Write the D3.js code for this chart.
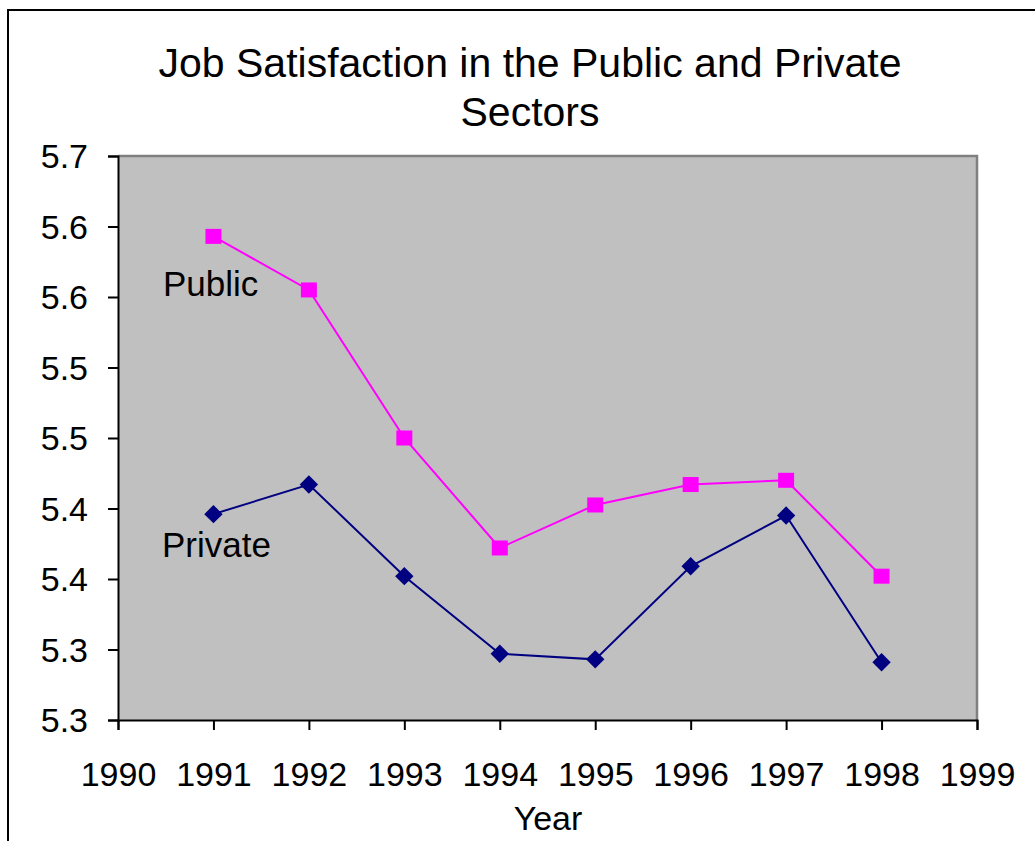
<!DOCTYPE html>
<html>
<head>
<meta charset="utf-8">
<script src="https://cdn.jsdelivr.net/npm/d3@7"></script>
<style>
  body { margin: 0; background: #fff; }
  text { font-family: "Liberation Sans", Arial, sans-serif; fill: #000; }
</style>
</head>
<body>
<script>
var years = [1991, 1992, 1993, 1994, 1995, 1996, 1997, 1998];
var publicVals = [5.593, 5.555, 5.450, 5.372, 5.4025, 5.417, 5.420, 5.352];
var privateVals = [5.396, 5.417, 5.352, 5.297, 5.293, 5.359, 5.395, 5.291];
var xTicks = [1990, 1991, 1992, 1993, 1994, 1995, 1996, 1997, 1998, 1999];
var yTicks = [5.25, 5.30, 5.35, 5.40, 5.45, 5.50, 5.55, 5.60, 5.65];

var W = 1035, H = 841;
var plot = { left: 118, right: 977, top: 156, bottom: 720 };

var svg = d3.select("body").append("svg")
	.attr("width", W)
	.attr("height", H);

// outer chart frame (runs off the right and bottom)
svg.append("path")
	.attr("d", "M8," + H + "V10H" + W)
	.attr("fill", "none")
	.attr("stroke", "#000")
	.attr("stroke-width", 2);

var x = d3.scaleLinear().domain([1990, 1999]).range([plot.left, plot.right]);
var y = d3.scaleLinear().domain([5.25, 5.65]).range([plot.bottom, plot.top]);

// plot area
svg.append("rect")
	.attr("x", plot.left)
	.attr("y", plot.top)
	.attr("width", plot.right - plot.left)
	.attr("height", plot.bottom - plot.top)
	.attr("fill", "#c0c0c0");

svg.append("path")
	.attr("d", "M" + plot.left + "," + plot.top + "H" + plot.right + "V" + plot.bottom)
	.attr("fill", "none")
	.attr("stroke", "#808080")
	.attr("stroke-width", 2.5);

// title
var title = svg.append("text")
	.attr("text-anchor", "middle")
	.style("font-size", "41px");
title.append("tspan").attr("x", 530).attr("y", 77).text("Job Satisfaction in the Public and Private");
title.append("tspan").attr("x", 530).attr("y", 126).text("Sectors");

// one decimal, rounding halves up like the spreadsheet does
var oneDec = function (d) { return (Math.round(d * 10 + 1e-6) / 10).toFixed(1); };

var yAxis = svg.append("g")
	.attr("transform", "translate(" + plot.left + ",0)")
	.call(d3.axisLeft(y).tickValues(yTicks).tickFormat(oneDec).tickSize(10).tickPadding(20));

var xAxis = svg.append("g")
	.attr("transform", "translate(0," + plot.bottom + ")")
	.call(d3.axisBottom(x).tickValues(xTicks).tickFormat(d3.format("d")).tickSize(10).tickPadding(29));

[yAxis, xAxis].forEach(function (g) {
	g.select(".domain").attr("stroke", "#000").attr("stroke-width", 2);
	g.selectAll(".tick line").attr("stroke", "#000").attr("stroke-width", 2);
	g.selectAll(".tick text")
		.attr("font-family", null)
		.style("font-size", "34px")
		.attr("fill", "#000");
});
yAxis.selectAll(".tick text").attr("dy", "0.35em");
xAxis.selectAll(".tick text").attr("dy", "0.78em");

svg.append("text")
	.attr("x", 548)
	.attr("y", 830)
	.attr("text-anchor", "middle")
	.style("font-size", "34px")
	.text("Year");

// series
var line = d3.line()
	.x(function (d) { return x(d.year); })
	.y(function (d) { return y(d.value); });

function series(vals) {
	return years.map(function (yr, i) { return { year: yr, value: vals[i] }; });
}

var pub = series(publicVals), priv = series(privateVals);

svg.append("path")
	.datum(pub)
	.attr("d", line)
	.attr("fill", "none")
	.attr("stroke", "#ff00ff")
	.attr("stroke-width", 2);

svg.append("path")
	.datum(priv)
	.attr("d", line)
	.attr("fill", "none")
	.attr("stroke", "#000080")
	.attr("stroke-width", 2);

svg.selectAll(".pubMark")
	.data(pub)
	.enter().append("rect")
	.attr("class", "pubMark")
	.attr("x", function (d) { return x(d.year) - 8; })
	.attr("y", function (d) { return y(d.value) - 7.5; })
	.attr("width", 16)
	.attr("height", 15)
	.attr("fill", "#ff00ff");

svg.selectAll(".privMark")
	.data(priv)
	.enter().append("rect")
	.attr("class", "privMark")
	.attr("x", -6.5)
	.attr("y", -6.5)
	.attr("width", 13)
	.attr("height", 13)
	.attr("transform", function (d) { return "translate(" + x(d.year) + "," + y(d.value) + ") rotate(45)"; })
	.attr("fill", "#000080");

// series labels
svg.append("text")
	.attr("x", 163)
	.attr("y", 296)
	.style("font-size", "35px")
	.text("Public");

svg.append("text")
	.attr("x", 162)
	.attr("y", 557)
	.style("font-size", "35px")
	.text("Private");
</script>
</body>
</html>
